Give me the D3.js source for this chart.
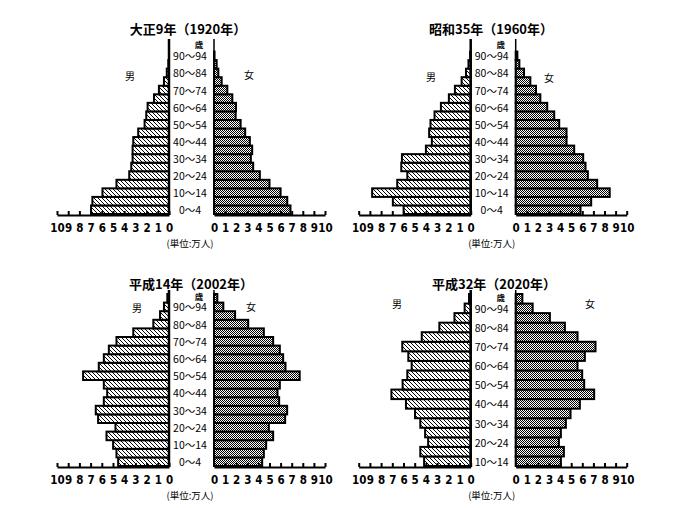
<!DOCTYPE html>
<html><head><meta charset="utf-8">
<script src="https://cdn.jsdelivr.net/npm/d3@7"></script>
<style>
html,body{margin:0;padding:0;background:#fff;}
svg{display:block;}
text{font-family:"Noto Sans CJK JP","Noto Sans",sans-serif;fill:#000;}
.tick text{font-family:"Liberation Sans Narrow","DejaVu Sans Condensed",sans-serif;font-weight:bold;}
</style>
</head><body>
<svg id="chart" width="683" height="508"></svg>
<script>
// ---- data ----
const ages20 = ["0～4","5～9","10～14","15～19","20～24","25～29","30～34","35～39","40～44","45～49",
  "50～54","55～59","60～64","65～69","70～74","75～79","80～84","85～89","90～94","95～99"];
const ages18 = ages20.slice(2);
const titles = ["大正9年（1920年）","昭和35年（1960年）","平成14年（2002年）","平成32年（2020年）"];
const tickValues = [0,1,2,3,4,5,6,7,8,9,10];

const male1920   = [6.96,6.84,5.94,4.69,3.55,3.37,3.25,3.25,3.19,2.75,2.18,2.03,1.91,1.34,0.90,0.45,0.20,0.06,0,0];
const female1920 = [6.89,6.60,6.00,5.00,4.13,3.53,3.32,3.44,3.23,2.81,2.40,1.95,1.98,1.65,1.20,0.69,0.39,0.24,0.05,0];
const male1960   = [5.99,6.95,8.80,6.56,5.66,6.20,6.14,4.00,3.47,3.71,3.59,3.23,2.66,1.95,1.41,0.81,0.42,0.20,0.05,0];
const female1960 = [5.84,6.80,8.47,7.34,6.50,6.29,6.08,5.27,4.58,4.58,3.92,3.47,2.84,2.22,1.83,1.32,0.75,0.33,0.15,0];
const male2002   = [4.54,4.69,4.99,5.58,4.78,6.33,6.54,5.82,5.52,5.82,7.67,6.27,5.82,5.37,4.69,3.19,1.40,0.80,0.45,0.15];
const female2002 = [4.34,4.49,4.70,5.33,4.94,6.41,6.59,5.87,5.72,5.93,7.72,6.44,6.23,5.93,5.33,4.49,3.08,1.90,0.84,0.30];
const male2020   = [4.16,4.50,3.80,4.07,4.50,4.97,5.78,7.08,6.08,5.66,5.27,5.57,6.11,4.37,2.80,1.45,0.54,0.15];
const female2020 = [4.07,4.34,3.89,4.07,4.52,4.94,5.78,7.07,6.17,5.99,5.57,6.23,7.19,5.57,4.43,3.08,1.53,0.60];

// ---- layout ----
const panels = [
  {ages:ages20, male:male1920, female:female1920, title:titles[0], zl:169,   zr:214,   top:43,  bottom:214, tx:188, ty:28,  sy:43.5, mx:130, my:75, fx:249, fy:74},
  {ages:ages20, male:male1960, female:female1960, title:titles[1], zl:470.7, zr:515.7, top:43,  bottom:214, tx:491, ty:28,  sy:43.5, mx:431, my:76, fx:549, fy:77},
  {ages:ages20, male:male2002, female:female2002, title:titles[2], zl:169,   zr:214,   top:294, bottom:466, tx:191, ty:283, sy:296, mx:137, my:307, fx:251, fy:306},
  {ages:ages18, male:male2020, female:female2020, title:titles[3], zl:470.7, zr:515.7, top:294, bottom:466, tx:494, ty:283, sy:296.5, mx:397, my:303, fx:590, fy:303}
];

const svg = d3.select("#chart");
svg.append("rect").attr("width",683).attr("height",508).attr("fill","#fff");
const defs = svg.append("defs");
// diagonal hatch (male)
const ph = defs.append("pattern").attr("id","hatch").attr("patternUnits","userSpaceOnUse")
  .attr("width",4).attr("height",4);
ph.append("rect").attr("width",4).attr("height",4).attr("fill","#fff");
[0,1,2,3].forEach(i=>ph.append("rect").attr("x",i).attr("y",i).attr("width",1).attr("height",1).attr("fill","#000"));
// checker (female)
const pc = defs.append("pattern").attr("id","checker").attr("patternUnits","userSpaceOnUse")
  .attr("width",2).attr("height",2);
pc.append("rect").attr("width",2).attr("height",2).attr("fill","#fff");
pc.append("rect").attr("x",0).attr("y",0).attr("width",1).attr("height",1).attr("fill","#000");
pc.append("rect").attr("x",1).attr("y",1).attr("width",1).attr("height",1).attr("fill","#000");

panels.forEach(p=>{
  const g = svg.append("g");
  const xL = d3.scaleLinear().domain([0,10]).range([p.zl, p.zl-112]);
  const xR = d3.scaleLinear().domain([0,10]).range([p.zr, p.zr+111]);
  const y = d3.scaleBand().domain(p.ages).range([p.bottom, p.top]).paddingInner(0).paddingOuter(0);
  const rows = p.ages.map((a,i)=>({age:a, m:p.male[i], f:p.female[i], i}));

  // male bars
  g.selectAll("rect.m").data(rows.filter(d=>d.m>0)).join("rect").attr("class","m")
    .attr("x",d=>xL(d.m)).attr("width",d=>p.zl-xL(d.m))
    .attr("y",d=>y(d.age)).attr("height",y.bandwidth())
    .attr("fill","url(#hatch)").attr("stroke","#000").attr("stroke-width",2);
  // female bars
  g.selectAll("rect.f").data(rows.filter(d=>d.f>0)).join("rect").attr("class","f")
    .attr("x",p.zr).attr("width",d=>xR(d.f)-p.zr)
    .attr("y",d=>y(d.age)).attr("height",y.bandwidth())
    .attr("fill","url(#checker)").attr("stroke","#000").attr("stroke-width",2);

  // center vertical lines
  g.append("line").attr("x1",p.zl).attr("x2",p.zl).attr("y1",p.top-4).attr("y2",p.bottom+1)
    .attr("stroke","#000").attr("stroke-width",2.5);
  g.append("line").attr("x1",p.zr).attr("x2",p.zr).attr("y1",p.top-4).attr("y2",p.bottom+1)
    .attr("stroke","#000").attr("stroke-width",1.5);

  // axes
  [xL,xR].forEach(sc=>{
    const ax = g.append("g").attr("transform",`translate(0,${p.bottom+1})`)
      .call(d3.axisBottom(sc).tickValues(tickValues).tickSizeInner(-4).tickSizeOuter(0).tickFormat(d3.format("d")));
    ax.select(".domain").attr("stroke","#000").attr("stroke-width",2);
    ax.selectAll(".tick line").attr("stroke","#000").attr("stroke-width",2);
    ax.selectAll(".tick text").attr("y",12.5).attr("dy","0.35em").attr("font-size",11.5);
  });

  // age labels
  const mid = (p.zl+p.zr)/2 - 1.5;
  g.selectAll("text.age").data(rows.filter(d=>d.i%2===0)).join("text").attr("class","age")
    .attr("x",mid).attr("y",d=>y(d.age)+y.bandwidth()/2)
    .attr("text-anchor","middle").attr("dominant-baseline","central")
    .attr("font-size",10.5).text(d=>d.age);
  g.append("text").attr("x",mid+9).attr("y",p.sy).attr("text-anchor","middle")
    .attr("dominant-baseline","central").attr("font-size",8.5).attr("font-weight","bold").text("歳");
  g.append("text").attr("x",p.mx).attr("y",p.my).attr("text-anchor","middle")
    .attr("dominant-baseline","central").attr("font-size",10).text("男");
  g.append("text").attr("x",p.fx).attr("y",p.fy).attr("text-anchor","middle")
    .attr("dominant-baseline","central").attr("font-size",10).text("女");
  g.append("text").attr("x",mid).attr("y",p.bottom+29).attr("text-anchor","middle")
    .attr("dominant-baseline","central").attr("font-size",9.5).text("(単位:万人)");
  g.append("text").attr("x",p.tx).attr("y",p.ty).attr("text-anchor","middle")
    .attr("dominant-baseline","central").attr("font-size",13).attr("font-weight","bold").text(p.title);
});
</script>
</body></html>
